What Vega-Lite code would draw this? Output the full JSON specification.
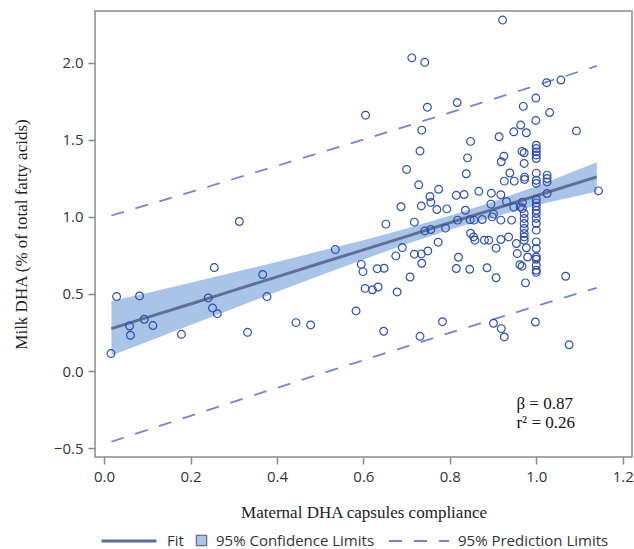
{
  "$schema": "https://vega.github.io/schema/vega-lite/v6.json",
  "width": 537,
  "height": 446,
  "autosize": {"type": "none"},
  "padding": {"left": 95, "top": 11, "right": 2, "bottom": 92},
  "background": "white",
  "config": {
    "view": {"stroke": "#8a8a8a", "strokeWidth": 1.5},
    "axis": {
      "domain": false, "grid": false,
      "tickColor": "#8a8a8a", "tickSize": 7, "tickWidth": 1.5,
      "labelFont": "Open Sans", "labelFontSize": 15, "labelColor": "#333333",
      "labelFlush": false, "labelOverlap": false,
      "titleFont": "Liberation Serif", "titleFontSize": 17, "titleFontWeight": "normal", "titleColor": "#222222"
    },
    "legend": {
      "labelFont": "Open Sans", "labelFontSize": 15, "labelColor": "#333333", "padding": 0
    }
  },
  "datasets": {
    "band": [
      {"x": 0.017, "lo": 0.100, "hi": 0.455, "fit": 0.275},
      {"x": 0.1, "lo": 0.190, "hi": 0.506, "fit": 0.348},
      {"x": 0.2, "lo": 0.298, "hi": 0.572, "fit": 0.435},
      {"x": 0.3, "lo": 0.406, "hi": 0.640, "fit": 0.523},
      {"x": 0.4, "lo": 0.514, "hi": 0.708, "fit": 0.611},
      {"x": 0.5, "lo": 0.620, "hi": 0.778, "fit": 0.699},
      {"x": 0.6, "lo": 0.724, "hi": 0.848, "fit": 0.786},
      {"x": 0.7, "lo": 0.824, "hi": 0.924, "fit": 0.874},
      {"x": 0.8, "lo": 0.917, "hi": 1.007, "fit": 0.962},
      {"x": 0.9, "lo": 0.999, "hi": 1.099, "fit": 1.049},
      {"x": 1.0, "lo": 1.075, "hi": 1.199, "fit": 1.137},
      {"x": 1.14, "lo": 1.165, "hi": 1.355, "fit": 1.260}
    ],
    "pred": [
      {"x": 0.017, "bound": "upper", "y": 1.009},
      {"x": 0.2, "bound": "upper", "y": 1.161},
      {"x": 0.4, "bound": "upper", "y": 1.331},
      {"x": 0.6, "bound": "upper", "y": 1.502},
      {"x": 0.8, "bound": "upper", "y": 1.676},
      {"x": 1.0, "bound": "upper", "y": 1.853},
      {"x": 1.14, "bound": "upper", "y": 1.980},
      {"x": 0.017, "bound": "lower", "y": -0.459},
      {"x": 0.2, "bound": "lower", "y": -0.291},
      {"x": 0.4, "bound": "lower", "y": -0.109},
      {"x": 0.6, "bound": "lower", "y": 0.070},
      {"x": 0.8, "bound": "lower", "y": 0.248},
      {"x": 1.0, "bound": "lower", "y": 0.421},
      {"x": 1.14, "bound": "lower", "y": 0.540}
    ],
    "points": [
      {"x": 0.016, "y": 0.113}, {"x": 0.029, "y": 0.483}, {"x": 0.082, "y": 0.487}, {"x": 0.059, "y": 0.292},
      {"x": 0.061, "y": 0.232}, {"x": 0.093, "y": 0.336}, {"x": 0.113, "y": 0.295}, {"x": 0.179, "y": 0.238},
      {"x": 0.255, "y": 0.671}, {"x": 0.241, "y": 0.474}, {"x": 0.251, "y": 0.409}, {"x": 0.262, "y": 0.372},
      {"x": 0.313, "y": 0.970}, {"x": 0.332, "y": 0.251}, {"x": 0.367, "y": 0.626}, {"x": 0.377, "y": 0.483},
      {"x": 0.444, "y": 0.314}, {"x": 0.478, "y": 0.299}, {"x": 0.535, "y": 0.788}, {"x": 0.583, "y": 0.390},
      {"x": 0.595, "y": 0.692}, {"x": 0.599, "y": 0.645}, {"x": 0.632, "y": 0.664}, {"x": 0.648, "y": 0.667},
      {"x": 0.604, "y": 0.536}, {"x": 0.621, "y": 0.527}, {"x": 0.634, "y": 0.545}, {"x": 0.647, "y": 0.258},
      {"x": 0.678, "y": 0.513}, {"x": 0.708, "y": 0.610}, {"x": 0.731, "y": 0.225}, {"x": 0.783, "y": 0.320},
      {"x": 0.652, "y": 0.953}, {"x": 0.687, "y": 1.066}, {"x": 0.690, "y": 0.801}, {"x": 0.675, "y": 0.747},
      {"x": 0.718, "y": 0.758}, {"x": 0.734, "y": 0.760}, {"x": 0.749, "y": 0.779}, {"x": 0.735, "y": 0.699},
      {"x": 0.718, "y": 0.966}, {"x": 0.742, "y": 0.909}, {"x": 0.756, "y": 0.918}, {"x": 0.773, "y": 0.836},
      {"x": 0.700, "y": 1.308}, {"x": 0.728, "y": 1.208}, {"x": 0.754, "y": 1.132}, {"x": 0.774, "y": 1.179},
      {"x": 0.734, "y": 1.071}, {"x": 0.756, "y": 1.094}, {"x": 0.770, "y": 1.048}, {"x": 0.712, "y": 2.032},
      {"x": 0.742, "y": 2.003}, {"x": 0.605, "y": 1.660}, {"x": 0.748, "y": 1.712}, {"x": 0.735, "y": 1.563},
      {"x": 0.731, "y": 1.427}, {"x": 0.922, "y": 2.277}, {"x": 0.817, "y": 1.742}, {"x": 1.024, "y": 1.871},
      {"x": 1.057, "y": 1.888}, {"x": 0.999, "y": 1.771}, {"x": 0.970, "y": 1.717}, {"x": 1.031, "y": 1.677},
      {"x": 0.999, "y": 1.626}, {"x": 0.964, "y": 1.596}, {"x": 0.948, "y": 1.552}, {"x": 0.977, "y": 1.546},
      {"x": 0.914, "y": 1.520}, {"x": 0.848, "y": 1.490}, {"x": 1.093, "y": 1.558}, {"x": 0.841, "y": 1.383},
      {"x": 0.838, "y": 1.280}, {"x": 0.925, "y": 1.394}, {"x": 0.919, "y": 1.358}, {"x": 0.967, "y": 1.425},
      {"x": 0.972, "y": 1.416}, {"x": 0.972, "y": 1.347}, {"x": 1.0, "y": 1.465}, {"x": 1.0, "y": 1.444},
      {"x": 1.0, "y": 1.422}, {"x": 1.0, "y": 1.401}, {"x": 1.0, "y": 1.379}, {"x": 0.939, "y": 1.285},
      {"x": 1.0, "y": 1.284}, {"x": 1.025, "y": 1.271}, {"x": 1.025, "y": 1.249}, {"x": 1.025, "y": 1.227},
      {"x": 1.025, "y": 1.152}, {"x": 1.144, "y": 1.169}, {"x": 0.926, "y": 1.232}, {"x": 0.949, "y": 1.232},
      {"x": 0.973, "y": 1.258}, {"x": 0.973, "y": 1.243}, {"x": 1.0, "y": 1.238}, {"x": 1.0, "y": 1.217},
      {"x": 0.815, "y": 1.140}, {"x": 0.833, "y": 1.145}, {"x": 0.867, "y": 1.166}, {"x": 0.896, "y": 1.154},
      {"x": 0.918, "y": 1.144}, {"x": 0.793, "y": 1.052}, {"x": 0.836, "y": 1.043}, {"x": 0.895, "y": 1.083},
      {"x": 0.931, "y": 1.100}, {"x": 0.948, "y": 1.063}, {"x": 0.963, "y": 1.065}, {"x": 0.968, "y": 1.095},
      {"x": 0.968, "y": 1.054}, {"x": 1.0, "y": 1.113}, {"x": 1.0, "y": 1.091}, {"x": 1.0, "y": 1.069},
      {"x": 1.0, "y": 1.043}, {"x": 1.0, "y": 1.022}, {"x": 1.0, "y": 0.990}, {"x": 0.818, "y": 0.979},
      {"x": 0.790, "y": 0.927}, {"x": 0.847, "y": 0.981}, {"x": 0.856, "y": 0.979}, {"x": 0.875, "y": 0.983},
      {"x": 0.898, "y": 1.000}, {"x": 0.901, "y": 1.018}, {"x": 0.918, "y": 0.979}, {"x": 0.943, "y": 0.979},
      {"x": 0.972, "y": 1.022}, {"x": 0.972, "y": 0.990}, {"x": 0.972, "y": 0.957}, {"x": 0.972, "y": 0.925},
      {"x": 0.972, "y": 0.892}, {"x": 0.972, "y": 0.870}, {"x": 1.0, "y": 0.957}, {"x": 1.0, "y": 0.914},
      {"x": 1.0, "y": 0.838}, {"x": 1.0, "y": 0.795}, {"x": 1.0, "y": 0.740}, {"x": 1.0, "y": 0.725},
      {"x": 1.0, "y": 0.686}, {"x": 1.0, "y": 0.654}, {"x": 0.848, "y": 0.894}, {"x": 0.855, "y": 0.870},
      {"x": 0.858, "y": 0.849}, {"x": 0.880, "y": 0.849}, {"x": 0.890, "y": 0.849}, {"x": 0.918, "y": 0.853},
      {"x": 0.936, "y": 0.870}, {"x": 0.907, "y": 0.797}, {"x": 0.954, "y": 0.827}, {"x": 0.956, "y": 0.762},
      {"x": 0.972, "y": 0.849}, {"x": 0.977, "y": 0.800}, {"x": 0.980, "y": 0.740}, {"x": 0.962, "y": 0.690},
      {"x": 0.967, "y": 0.680}, {"x": 0.820, "y": 0.738}, {"x": 0.815, "y": 0.665}, {"x": 0.846, "y": 0.660},
      {"x": 0.886, "y": 0.670}, {"x": 0.907, "y": 0.605}, {"x": 0.975, "y": 0.572}, {"x": 0.901, "y": 0.310},
      {"x": 0.919, "y": 0.275}, {"x": 0.926, "y": 0.221}, {"x": 0.998, "y": 0.318}, {"x": 1.068, "y": 0.615},
      {"x": 1.076, "y": 0.170}, {"x": 1.0, "y": 0.640}
    ],
    "notes": [
      {"x": 0.954, "y": -0.249, "label": "β = 0.87"},
      {"x": 0.954, "y": -0.372, "label": "r² = 0.26"}
    ]
  },
  "layer": [
    {
      "data": {"name": "band"},
      "mark": {"type": "area", "opacity": 1},
      "encoding": {
        "x": {"field": "x", "type": "quantitative",
              "scale": {"domain": [-0.021, 1.2215], "nice": false, "zero": false},
              "axis": {"values": [0, 0.2, 0.4, 0.6, 0.8, 1.0, 1.2], "format": ".1f", "labelPadding": 5,
                       "title": "Maternal DHA capsules compliance", "titleBaseline": "alphabetic", "titleY": 60}},
        "y": {"field": "lo", "type": "quantitative",
              "scale": {"domain": [-0.558, 2.336], "nice": false, "zero": false},
              "axis": {"values": [-0.5, 0, 0.5, 1.0, 1.5, 2.0], "format": ".1f", "labelPadding": 5,
                       "title": "Milk DHA (% of total fatty acids)", "titleBaseline": "alphabetic", "titleX": -69}},
        "y2": {"field": "hi"},
        "fill": {"datum": "95% Confidence Limits", "type": "nominal",
                 "scale": {"range": ["#a9c4e6"]},
                 "legend": {"title": null, "orient": "none", "legendX": 99, "legendY": 522,
                            "symbolType": "square", "symbolSize": 110, "symbolStrokeColor": "#555555",
                            "symbolStrokeWidth": 1, "symbolFillColor": "#a9c4e6", "symbolOpacity": 1, "labelOffset": 7}}
      }
    },
    {
      "data": {"name": "pred"},
      "mark": {"type": "line", "stroke": "#7683d4", "strokeWidth": 1.8},
      "encoding": {
        "x": {"field": "x", "type": "quantitative"},
        "y": {"field": "y", "type": "quantitative"},
        "detail": {"field": "bound"},
        "strokeDash": {"datum": "95% Prediction Limits", "type": "nominal",
                       "scale": {"range": [[13, 12]]},
                       "legend": {"title": null, "orient": "none", "legendX": 293, "legendY": 499,
                                  "symbolType": "stroke", "symbolSize": 3600, "symbolStrokeColor": "#7683d4",
                                  "symbolStrokeWidth": 1.8, "labelOffset": 8}}
      }
    },
    {
      "data": {"name": "band"},
      "mark": {"type": "line", "strokeWidth": 3},
      "encoding": {
        "x": {"field": "x", "type": "quantitative"},
        "y": {"field": "fit", "type": "quantitative"},
        "stroke": {"datum": "Fit", "type": "nominal",
                   "scale": {"range": ["#5e6f93"]},
                   "legend": {"title": null, "orient": "none", "legendX": 5, "legendY": 501,
                              "symbolType": "stroke", "symbolSize": 3025, "symbolStrokeWidth": 3, "labelOffset": 9}}
      }
    },
    {
      "data": {"name": "points"},
      "mark": {"type": "point", "shape": "circle", "filled": false, "size": 60, "stroke": "#2f4fae", "strokeWidth": 1.2, "opacity": 1},
      "encoding": {
        "x": {"field": "x", "type": "quantitative"},
        "y": {"field": "y", "type": "quantitative"}
      }
    },
    {
      "data": {"name": "notes"},
      "mark": {"type": "text", "align": "left", "baseline": "alphabetic", "font": "Liberation Serif", "fontSize": 17, "color": "#111111"},
      "encoding": {
        "x": {"field": "x", "type": "quantitative"},
        "y": {"field": "y", "type": "quantitative"},
        "text": {"field": "label"}
      }
    }
  ]
}
